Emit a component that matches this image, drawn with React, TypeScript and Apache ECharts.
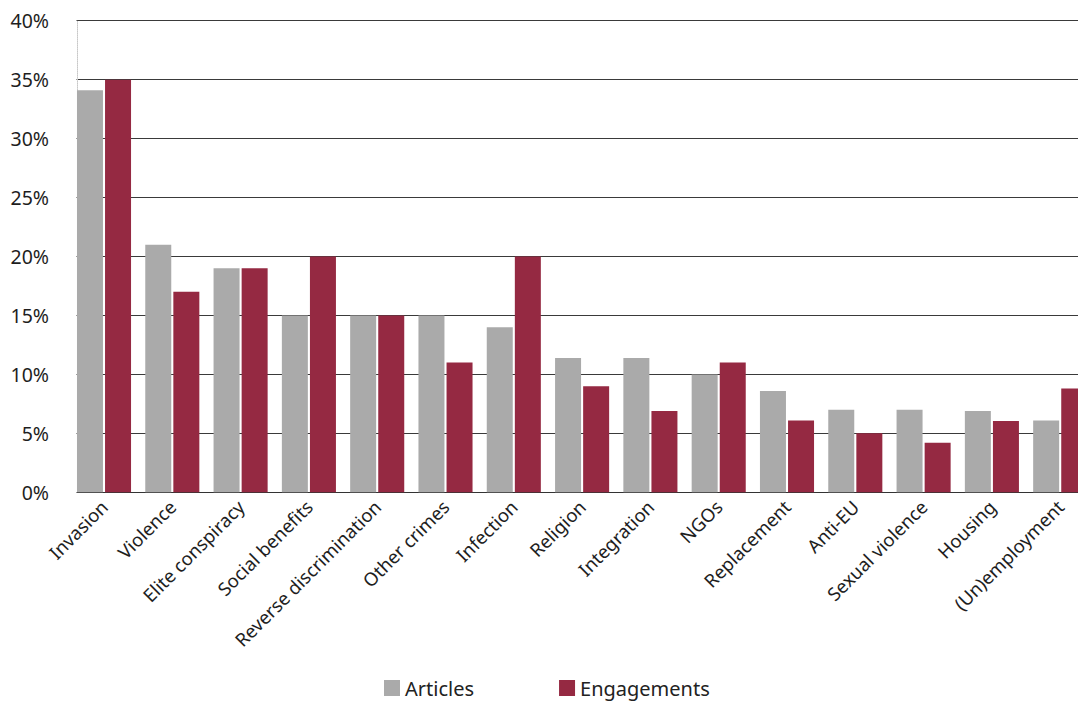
import React, { useEffect, useRef } from "react";
import * as echarts from "echarts";

const categories = [
  "Invasion",
  "Violence",
  "Elite conspiracy",
  "Social benefits",
  "Reverse discrimination",
  "Other crimes",
  "Infection",
  "Religion",
  "Integration",
  "NGOs",
  "Replacement",
  "Anti-EU",
  "Sexual violence",
  "Housing",
  "(Un)employment",
];

const articles = [34.1, 21, 19, 15, 15, 15, 14, 11.4, 11.4, 10, 8.6, 7, 7, 6.9, 6.1];
const engagements = [35, 17, 19, 20, 15, 11, 20, 9, 6.9, 11, 6.1, 5, 4.2, 6.05, 8.8];

const yTicks = { min: 0, max: 40, interval: 5 };

const FONT = "'Noto Sans', 'Open Sans', sans-serif";

export default function App() {
  const ref = useRef<HTMLDivElement>(null);

  useEffect(() => {
    if (!ref.current) return;
    const chart = echarts.init(ref.current, undefined, { renderer: "svg" });
    const gridLeft = 69.85;
    const gridTop = 20.7;
    const gridHeight = 471.6;
    chart.setOption({
      animation: false,
      textStyle: { fontFamily: FONT },
      grid: {
        left: gridLeft,
        top: gridTop,
        width: 1024.5,
        height: gridHeight,
        containLabel: false,
      },
      legend: {
        left: 384,
        top: 677,
        padding: 0,
        itemWidth: 16,
        itemHeight: 16,
        itemGap: 85,
        icon: "rect",
        textStyle: { fontSize: 20, lineHeight: 22, color: "#222", fontFamily: FONT },
        data: ["Articles", "Engagements"],
      },
      xAxis: {
        type: "category",
        data: categories,
        boundaryGap: true,
        axisTick: { show: false },
        axisLine: { show: true, lineStyle: { color: "#333", width: 1 } },
        axisLabel: {
          rotate: 45,
          interval: 0,
          margin: 11,
          fontSize: 18.5,
          color: "#1e1e1e",
          fontFamily: FONT,
        },
        splitLine: { show: false },
      },
      yAxis: {
        type: "value",
        min: yTicks.min,
        max: yTicks.max,
        interval: yTicks.interval,
        offset: -7.15,
        axisLine: { show: true, lineStyle: { color: "#c8c8c8", type: "dotted", width: 1 } },
        axisTick: { show: false },
        axisLabel: {
          formatter: "{value}%",
          margin: 28,
          fontSize: 19.5,
          color: "#1e1e1e",
          fontFamily: FONT,
        },
        splitLine: { show: true, lineStyle: { color: "#3a3a3a", width: 1 } },
      },
      graphic: [
        {
          type: "rect",
          z: 100,
          shape: { x: 55, y: gridTop - 5, width: 21.5, height: gridHeight + 10 },
          style: { fill: "#fff" },
          silent: true,
        },
      ],
      series: [
        {
          name: "Articles",
          type: "bar",
          data: articles,
          barWidth: 26,
          barGap: "8%",
          itemStyle: { color: "#aaaaaa" },
        },
        {
          name: "Engagements",
          type: "bar",
          data: engagements,
          barWidth: 26,
          itemStyle: { color: "#952942" },
        },
      ],
    });
    return () => chart.dispose();
  }, []);

  return (
    <div
      style={{
        position: "fixed",
        left: 0,
        top: 0,
        width: 1078,
        height: 702,
        overflow: "hidden",
        background: "#fff",
      }}
    >
      <div ref={ref} style={{ width: 1110, height: 702 }} />
    </div>
  );
}
